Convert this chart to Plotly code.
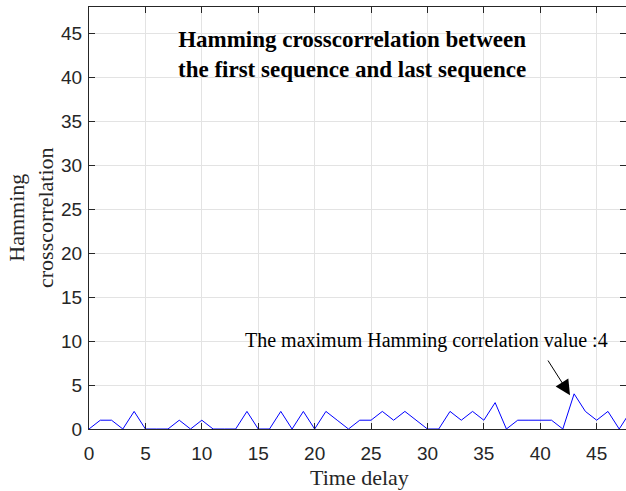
import plotly.graph_objects as go

time_delay = list(range(0, 49))
hamming_xcorr = [0, 1, 1, 0, 2, 0, 0, 0, 1, 0,
                 1, 0, 0, 0, 2, 0, 0, 2, 0, 2,
                 0, 2, 1, 0, 1, 1, 2, 1, 2, 1,
                 0, 0, 2, 1, 2, 1, 3, 0, 1, 1,
                 1, 1, 0, 4, 2, 1, 2, 0, 2]
x_ticks = [0, 5, 10, 15, 20, 25, 30, 35, 40, 45]
y_ticks = [0, 5, 10, 15, 20, 25, 30, 35, 40, 45]
x_range = [0, 47.6]
y_range = [0, 48]
max_x, max_y = 43, 4

W, H = 626, 491
L, R, T, B = 89, 0, 7, 62
pw = W - L - R
ph = H - T - B

fig = go.Figure()
fig.add_trace(go.Scatter(x=time_delay, y=hamming_xcorr, mode="lines",
                         line=dict(color="#0000ff", width=1), showlegend=False))

axis_common = dict(
    showgrid=True, gridcolor="#e3e3e3", gridwidth=1,
    showline=True, linecolor="#262626", linewidth=1, mirror="ticks",
    ticks="inside", ticklen=6, tickcolor="#262626", tickwidth=1,
    zeroline=False,
    tickfont=dict(family="Liberation Sans, Arial", size=19, color="#262626"),
)
fig.update_xaxes(range=x_range, tickvals=x_ticks, ticklabelstandoff=7, **axis_common)
fig.update_yaxes(range=y_range, tickvals=y_ticks, ticklabelstandoff=2, **axis_common)

serif = "Liberation Serif, Times New Roman"
fig.add_annotation(text="Time delay", xref="paper", yref="paper",
                   x=(359 - L) / pw, y=-(477 - (T + ph)) / ph,
                   xanchor="center", yanchor="middle", showarrow=False,
                   font=dict(family=serif, size=22, color="#262626"))
fig.add_annotation(text="Hamming<br>crosscorrelation", xref="paper", yref="paper",
                   x=(31 - L) / pw, y=(T + ph - 218) / ph, textangle=-90,
                   xanchor="center", yanchor="middle", showarrow=False,
                   font=dict(family=serif, size=22, color="#262626"))
fig.add_annotation(text="<b>Hamming crosscorrelation between<br>the first sequence and last sequence</b>",
                   xref="paper", yref="paper",
                   x=(352 - L) / pw, y=(T + ph - 55) / ph,
                   xanchor="center", yanchor="middle", showarrow=False,
                   font=dict(family=serif, size=23, color="#000000"))
fig.add_annotation(text="The maximum Hamming correlation value :4",
                   xref="paper", yref="paper",
                   x=(426 - L) / pw, y=(T + ph - 340) / ph,
                   xanchor="center", yanchor="middle", showarrow=False,
                   font=dict(family=serif, size=20, color="#000000"))
fig.add_annotation(x=max_x - 0.36, y=max_y - 0.15, xref="x", yref="y",
                   ax=40.6, ay=7.96, axref="x", ayref="y", text="",
                   showarrow=True, arrowhead=2, arrowsize=3, arrowwidth=1,
                   arrowcolor="#000000")

fig.update_layout(width=W, height=H, margin=dict(l=L, r=R, t=T, b=B),
                  plot_bgcolor="white", paper_bgcolor="white")
fig.write_html("out.html")
